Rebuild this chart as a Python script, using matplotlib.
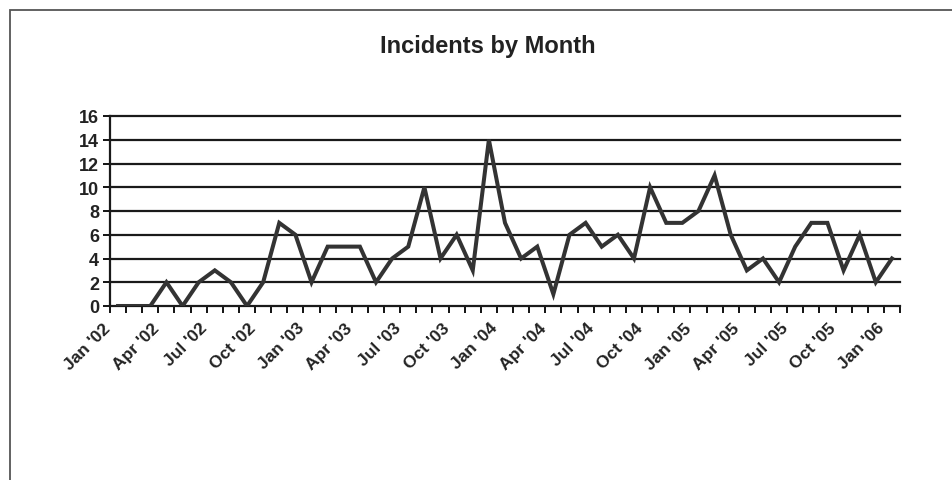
import matplotlib
matplotlib.use('Agg')
import matplotlib.pyplot as plt
import matplotlib.patches as patches
import numpy as np
from matplotlib.transforms import ScaledTranslation

# monthly incident counts, Jan '02 .. Jan '06
months = ["Jan '02", "Feb '02", "Mar '02", "Apr '02", "May '02", "Jun '02", "Jul '02", "Aug '02", "Sep '02", "Oct '02", "Nov '02", "Dec '02",
          "Jan '03", "Feb '03", "Mar '03", "Apr '03", "May '03", "Jun '03", "Jul '03", "Aug '03", "Sep '03", "Oct '03", "Nov '03", "Dec '03",
          "Jan '04", "Feb '04", "Mar '04", "Apr '04", "May '04", "Jun '04", "Jul '04", "Aug '04", "Sep '04", "Oct '04", "Nov '04", "Dec '04",
          "Jan '05", "Feb '05", "Mar '05", "Apr '05", "May '05", "Jun '05", "Jul '05", "Aug '05", "Sep '05", "Oct '05", "Nov '05", "Dec '05",
          "Jan '06"]
incidents = [0, 0, 0, 2, 0, 2, 3, 2, 0, 2, 7, 6,
             2, 5, 5, 5, 2, 4, 5, 10, 4, 6, 3, 14,
             7, 4, 5, 1, 6, 7, 5, 6, 4, 10, 7, 7,
             8, 11, 6, 3, 4, 2, 5, 7, 7, 3, 6, 2,
             4]
y_ticks = [0, 2, 4, 6, 8, 10, 12, 14, 16]

plt.rcParams['font.family'] = ['Liberation Sans', 'DejaVu Sans']
fig = plt.figure(figsize=(9.52, 4.81), dpi=100)
ax = fig.add_axes([110/952, 1-307/481, 790/952, 190/481])

x = np.arange(len(incidents))
ax.plot(x, incidents, color='#333333', linewidth=2.9, solid_joinstyle='miter', zorder=3)

ax.set_xlim(-0.5, len(incidents)-0.5)
ax.set_ylim(0, 16)
ax.set_yticks(y_ticks)
ax.set_yticklabels([str(v) for v in y_ticks], fontsize=13, fontweight='bold', color='#222222')
for v in y_ticks[1:]:
    ax.axhline(v, color='#1a1a1a', linewidth=1.6, zorder=1, clip_on=False)

# labels every 3 months, ticks between categories
ax.set_xticks(x[::3])
ax.set_xticklabels(months[::3], rotation=45, ha='right', rotation_mode='anchor', fontsize=12.5, fontweight='bold', color='#222222')
ax.set_xticks(np.arange(-0.5, len(incidents), 1), minor=True)
ax.tick_params(axis='x', which='major', length=0, pad=10)
ax.tick_params(axis='x', which='minor', length=5, width=1.3, direction='out')
ax.tick_params(axis='y', length=5, width=1.3, direction='out', pad=3)
offset = ScaledTranslation(-15/100, 0, fig.dpi_scale_trans)
for lab in ax.get_xticklabels():
    lab.set_transform(lab.get_transform() + offset)

for s in ['top', 'right']:
    ax.spines[s].set_visible(False)
for s in ['left', 'bottom']:
    ax.spines[s].set_linewidth(1.6)
    ax.spines[s].set_color('#1a1a1a')

fig.text(488/952, 1-47/481, 'Incidents by Month', ha='center', va='center', fontsize=17, fontweight='bold', color='#222222')

# chart frame
frame = patches.Rectangle((10/952, -0.1), 1.1, 1-11/481+0.1, transform=fig.transFigure,
                          fill=False, edgecolor='#555555', linewidth=1.3, clip_on=False)
fig.patches.append(frame)

fig.savefig('out.png', dpi=100)
